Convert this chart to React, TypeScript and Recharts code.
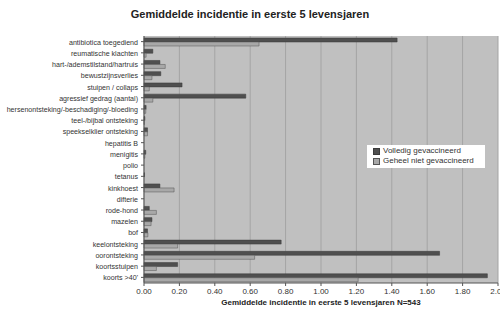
import React from 'react';
import { BarChart, Bar, XAxis, YAxis, CartesianGrid, Legend } from 'recharts';

const categories = [
  'antibiotica toegediend',
  'reumatische klachten',
  'hart-/ademstilstand/hartruis',
  'bewustzijnsverlies',
  'stuipen / collaps',
  'agressief gedrag (aantal)',
  'hersenontsteking/-beschadiging/-bloeding',
  'teel-/bijbal ontsteking',
  'speekselklier ontsteking',
  'hepatitis B',
  'menigitis',
  'polio',
  'tetanus',
  'kinkhoest',
  'difterie',
  'rode-hond',
  'mazelen',
  'bof',
  'keelontsteking',
  'oorontsteking',
  'koortsstuipen',
  "koorts >40'",
];

const volledig = [1.43, 0.05, 0.09, 0.095, 0.215, 0.575, 0.012, 0.005, 0.02, 0, 0.01, 0, 0.003, 0.09, 0, 0.03, 0.045, 0.02, 0.775, 1.67, 0.19, 1.94];
const geheelNiet = [0.65, 0.012, 0.12, 0.045, 0.03, 0.05, 0.01, 0.002, 0.02, 0, 0.005, 0, 0, 0.17, 0, 0.07, 0.04, 0.022, 0.19, 0.625, 0.07, 1.21];

const xTicks = [0, 0.2, 0.4, 0.6, 0.8, 1.0, 1.2, 1.4, 1.6, 1.8, 2.0];

const seriesNames = ['Volledig gevaccineerd', 'Geheel niet gevaccineerd'];
const seriesFill = ['#4f4f4f', '#a8a8a8'];
const seriesStroke = ['#3a3a3a', '#555555'];

const data = categories.map((c, i) => ({ name: c, v: volledig[i], g: geheelNiet[i] }));

const font = 'Liberation Sans, Arial, sans-serif';

const YTick = (props: any) => {
  const { x, y, payload } = props;
  return (
    <text x={x - 1} y={y} dy={3} textAnchor="end" fontSize="7.1px" fill="#333" fontFamily={font}>
      {payload.value}
    </text>
  );
};

const LegendBox = () => (
  <div style={{ background: '#fff', width: 118, height: 23, padding: '1px 0 0 6px', boxSizing: 'border-box', fontSize: 8, lineHeight: '10px', color: '#333', fontFamily: font, textAlign: 'left' }}>
    {seriesNames.map((n, i) => (
      <div key={n} style={{ display: 'flex', alignItems: 'center' }}>
        <span style={{ display: 'inline-block', width: 5, height: 5, background: seriesFill[i], border: `1px solid ${seriesStroke[i]}`, marginRight: 3 }} />
        {n}
      </div>
    ))}
  </div>
);

export default function App() {
  return (
    <div style={{ position: 'absolute', left: 0, top: 0, width: 500, height: 321, background: '#fff', fontFamily: font }}>
      <div style={{ position: 'absolute', left: 0, top: 8, width: 500, textAlign: 'center', fontSize: 11, fontWeight: 'bold', color: '#222' }}>
        Gemiddelde incidentie in eerste 5 levensjaren
      </div>
      <BarChart
        width={500}
        height={321}
        data={data}
        layout="vertical"
        margin={{ top: 36, right: 2, bottom: 8, left: 0 }}
        barGap={0}
        barSize={4}
      >
        <CartesianGrid horizontal={false} stroke="#a4a4a4" fill="#c0c0c0" strokeWidth={1} />
        <XAxis
          type="number"
          domain={[0, 2]}
          ticks={xTicks}
          tickFormatter={(v: number) => v.toFixed(2)}
          height={30}
          tick={{ fontSize: 8, fill: '#333', fontFamily: font }}
          axisLine={{ stroke: '#555' }}
          tickLine={{ stroke: '#555' }}
          tickSize={3}
          interval={0}
        />
        <YAxis
          type="category"
          dataKey="name"
          width={144}
          interval={0}
          tick={<YTick />}
          axisLine={{ stroke: '#555' }}
          tickLine={{ stroke: '#555' }}
          tickSize={3}
        />
        <Legend
          layout="vertical"
          align="center"
          verticalAlign="middle"
          content={<LegendBox />}
          wrapperStyle={{ position: 'absolute', left: 367, top: 145, width: 118, height: 23 }}
        />
        <Bar dataKey="v" name={seriesNames[0]} fill={seriesFill[0]} stroke={seriesStroke[0]} strokeWidth={0.5} isAnimationActive={false} />
        <Bar dataKey="g" name={seriesNames[1]} fill={seriesFill[1]} stroke={seriesStroke[1]} strokeWidth={0.5} isAnimationActive={false} />
      </BarChart>
      <div style={{ position: 'absolute', left: 144, top: 298, width: 354, textAlign: 'center', fontSize: 8, fontWeight: 'bold', color: '#222' }}>
        Gemiddelde incidentie in eerste 5 levensjaren N=543
      </div>
    </div>
  );
}
